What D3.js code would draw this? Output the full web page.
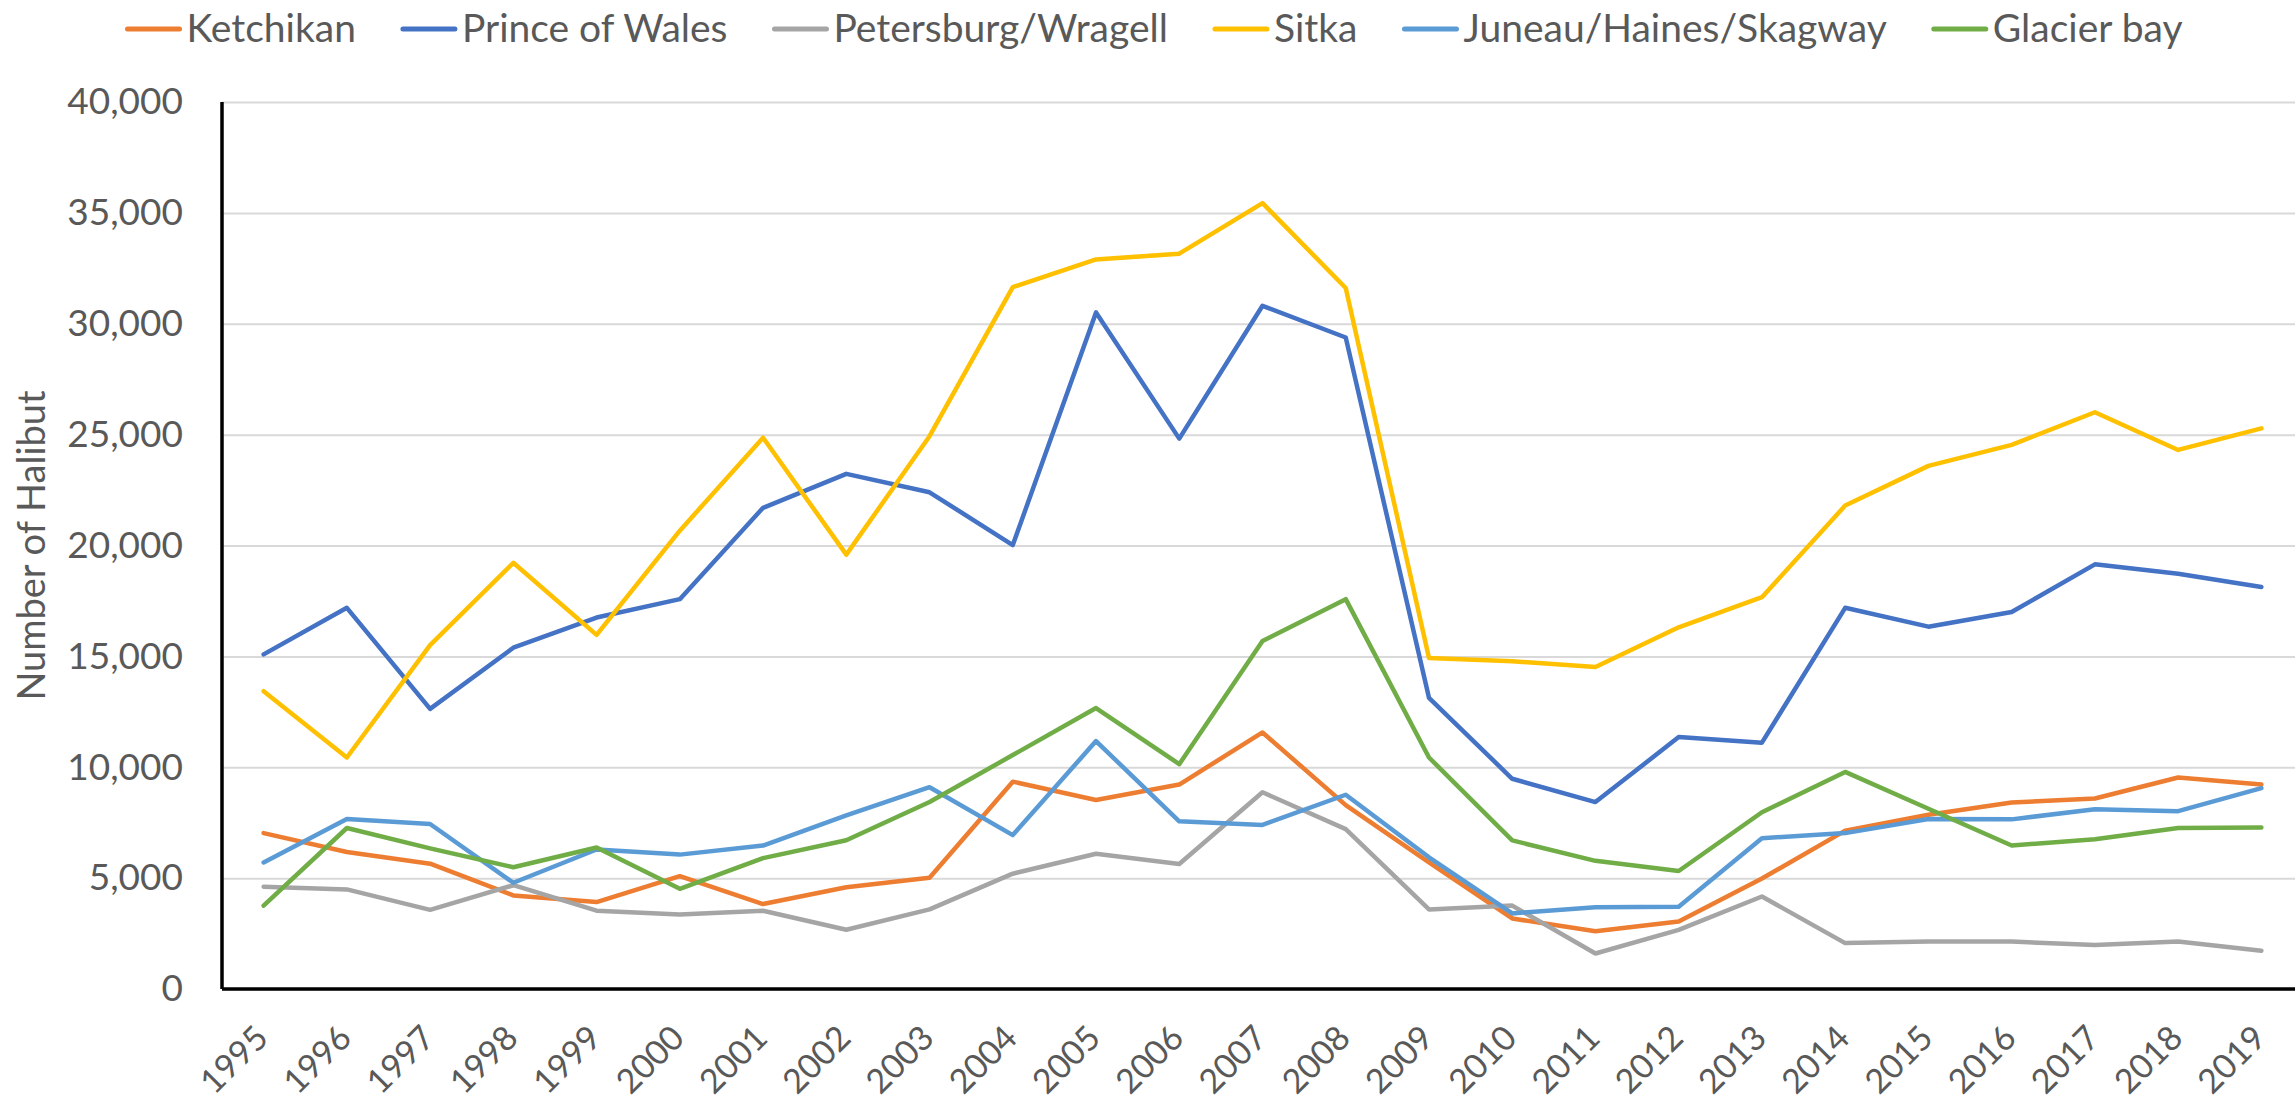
<!DOCTYPE html>
<html>
<head>
<meta charset="utf-8">
<script src="https://cdn.jsdelivr.net/npm/d3@7"></script>
<style>
  html, body { margin: 0; padding: 0; background: #fff; }
  svg { display: block; font-family: Lato, "Open Sans", sans-serif; }
  .tick text { fill: #595959; }
</style>
</head>
<body>
<div id="chart"></div>
<script>
// Halibut counts by area, 1995-2019
const years = [1995, 1996, 1997, 1998, 1999, 2000, 2001, 2002, 2003, 2004, 2005, 2006, 2007,
               2008, 2009, 2010, 2011, 2012, 2013, 2014, 2015, 2016, 2017, 2018, 2019];

const ketchikan = [7030, 6180, 5650, 4220, 3920, 5090, 3830, 4590, 5020, 9350, 8520, 9220, 11570,
                   8290, 5710, 3180, 2600, 3040, 4980, 7140, 7860, 8410, 8590, 9540, 9220];
const princeOfWales = [15090, 17190, 12630, 15390, 16750, 17580, 21700, 23230, 22400, 20020, 30510, 24820, 30810,
                       29380, 13130, 9480, 8430, 11360, 11110, 17190, 16340, 17000, 19150, 18730, 18130];
const petersburg = [4610, 4490, 3570, 4680, 3530, 3360, 3530, 2670, 3590, 5200, 6100, 5640, 8870,
                    7210, 3590, 3760, 1600, 2670, 4170, 2070, 2140, 2140, 1980, 2140, 1720];
const sitka = [13430, 10440, 15510, 19220, 15970, 20670, 24860, 19590, 24930, 31650, 32900, 33160, 35440,
               31610, 14930, 14780, 14520, 16310, 17670, 21800, 23590, 24540, 26010, 24310, 25280];
const juneau = [5710, 7670, 7440, 4790, 6290, 6060, 6470, 7830, 9100, 6940, 11180, 7560, 7400,
                8760, 5940, 3410, 3690, 3710, 6800, 7030, 7670, 7650, 8110, 8020, 9060];
const glacierBay = [3760, 7260, 6340, 5490, 6380, 4520, 5900, 6710, 8430, 10550, 12670, 10140, 15690,
                    17580, 10440, 6700, 5780, 5320, 7970, 9790, 8130, 6470, 6750, 7260, 7280];

const seriesNames = ['Ketchikan', 'Prince of Wales', 'Petersburg/Wragell', 'Sitka', 'Juneau/Haines/Skagway', 'Glacier bay'];
const seriesValues = [ketchikan, princeOfWales, petersburg, sitka, juneau, glacierBay];
const seriesColors = ['#ED7D31', '#4472C4', '#A5A5A5', '#FFC000', '#5B9BD5', '#70AD47'];

const yTicks = [0, 5000, 10000, 15000, 20000, 25000, 30000, 35000, 40000];

const W = 2295, H = 1105;
const plot = { left: 222, right: 2303, top: 102, bottom: 989 };
const fontSize = 37;

const svg = d3.select('#chart').append('svg')
    .attr('width', W)
    .attr('height', H);

const x = d3.scalePoint()
    .domain(years)
    .range([plot.left, plot.right])
    .padding(0.5);

const y = d3.scaleLinear()
    .domain([0, 40000])
    .range([plot.bottom, plot.top]);

// gridlines
svg.append('g')
    .attr('transform', `translate(${plot.left},0)`)
    .call(d3.axisLeft(y).tickValues(yTicks).tickSize(-(plot.right - plot.left)).tickFormat(''))
    .call(g => g.select('.domain').remove())
    .selectAll('line')
    .attr('stroke', '#D9D9D9')
    .attr('stroke-width', 2);

// y tick labels
svg.append('g')
    .attr('transform', `translate(${plot.left},0)`)
    .call(d3.axisLeft(y).tickValues(yTicks).tickSize(0).tickPadding(39).tickFormat(d3.format(',')))
    .call(g => g.select('.domain').remove())
    .selectAll('text')
    .style('font-size', fontSize + 'px')
    .style('font-family', 'Lato, sans-serif');

// series lines
const line = d3.line()
    .x((d, i) => x(years[i]))
    .y(d => y(d));

svg.append('g')
    .selectAll('path')
    .data(seriesValues)
    .enter()
    .append('path')
    .attr('d', d => line(d))
    .attr('fill', 'none')
    .attr('stroke', (d, i) => seriesColors[i])
    .attr('stroke-width', 4.5)
    .attr('stroke-linejoin', 'round')
    .attr('stroke-linecap', 'round');

// x axis
const xAxis = svg.append('g')
    .attr('transform', `translate(0,${plot.bottom})`)
    .call(d3.axisBottom(x).tickSize(0));

xAxis.select('.domain').remove();
xAxis.selectAll('text')
    .attr('x', 0)
    .attr('y', 0)
    .attr('dy', 0)
    .attr('transform', 'translate(6,51) rotate(-45)')
    .style('text-anchor', 'end')
    .style('font-size', '34px')
    .style('font-family', 'Lato, sans-serif');

// axis lines
svg.append('line')
    .attr('x1', plot.left).attr('x2', W)
    .attr('y1', plot.bottom).attr('y2', plot.bottom)
    .attr('stroke', '#000')
    .attr('stroke-width', 3.5);

svg.append('line')
    .attr('x1', plot.left).attr('x2', plot.left)
    .attr('y1', plot.top).attr('y2', plot.bottom)
    .attr('stroke', '#000')
    .attr('stroke-width', 3.5);

// y axis title
svg.append('text')
    .attr('transform', `translate(30,${(plot.top + plot.bottom) / 2}) rotate(-90)`)
    .attr('text-anchor', 'middle')
    .attr('dominant-baseline', 'central')
    .style('font-size', '38px')
    .style('fill', '#595959')
    .text('Number of Halibut');

// legend, centred at the top
const legend = svg.append('g');
const markerLen = 56, markerGap = 5, itemGap = 45;
let cursor = 0;
seriesNames.forEach((name, i) => {
    const item = legend.append('g').attr('transform', `translate(${cursor},0)`);
    item.append('line')
        .attr('x1', 2).attr('x2', markerLen - 2)
        .attr('y1', 29).attr('y2', 29)
        .attr('stroke', seriesColors[i])
        .attr('stroke-width', 5)
        .attr('stroke-linecap', 'round');
    const t = item.append('text')
        .attr('x', markerLen + markerGap)
        .attr('y', 42)
        .style('font-size', '39px')
        .style('fill', '#595959')
        .text(name);
    cursor += markerLen + markerGap + t.node().getComputedTextLength() + itemGap;
});
const legendWidth = cursor - itemGap;
legend.attr('transform', `translate(${1154 - legendWidth / 2},0)`);
</script>
</body>
</html>
